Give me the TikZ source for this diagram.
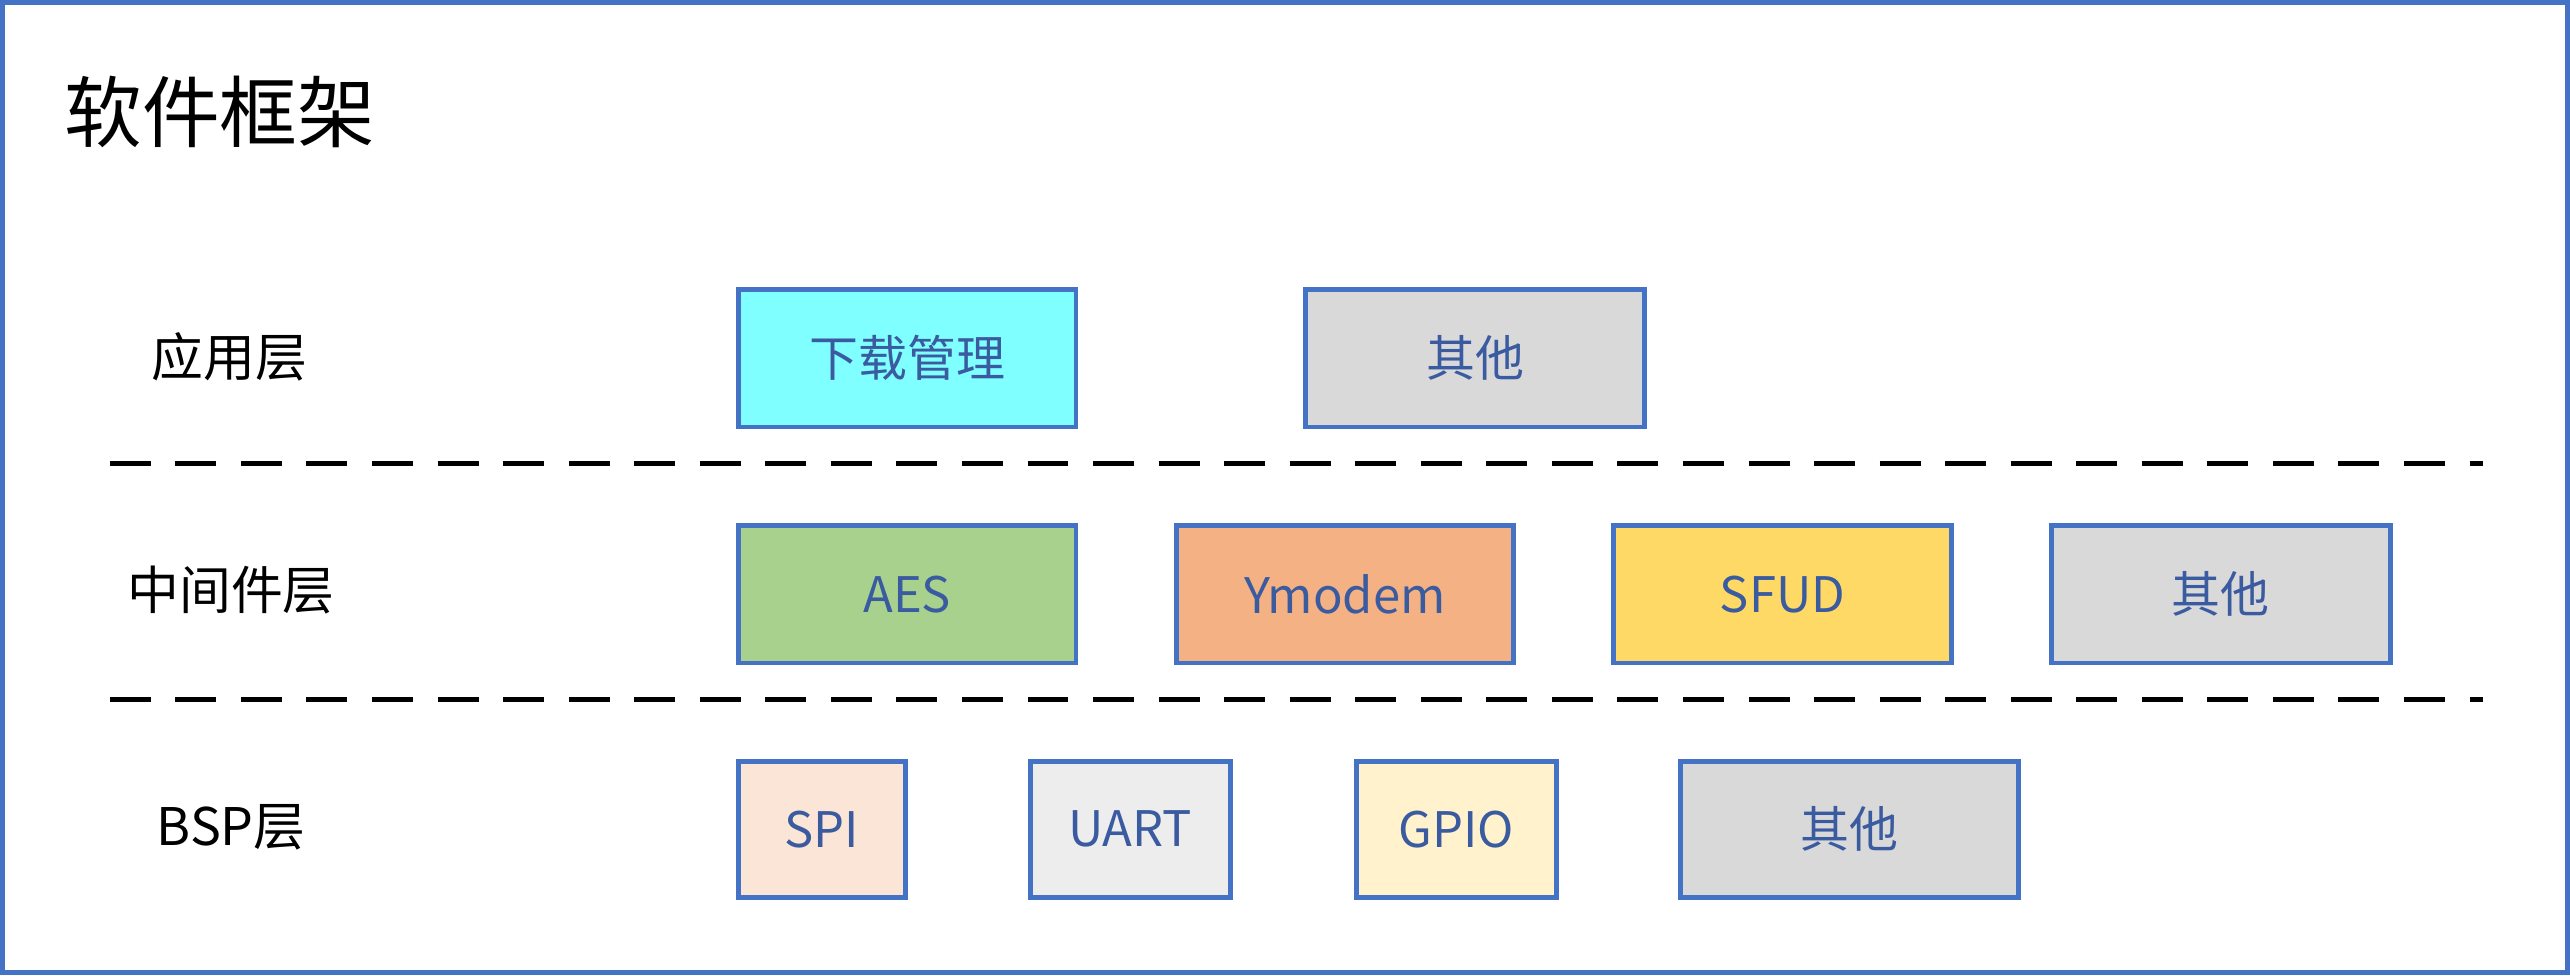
\documentclass[tikz,border=0pt]{standalone}
\usepackage{fontspec}
\setmainfont{Noto Sans CJK SC}
\begin{document}
\begin{tikzpicture}[x=0.02cm,y=-0.02cm,
  box/.style={draw=bd,line width=0.06cm,inner sep=0pt,font=\fontsize{17}{20}\selectfont,text=tx},
  lbl/.style={font=\fontsize{18}{22}\selectfont,text=black},
  sep/.style={line width=0.06cm,dash pattern=on 0.5cm off 0.3cm}]
\definecolor{bd}{HTML}{4472C4}
\definecolor{tx}{HTML}{3A5BA0}
\definecolor{gr}{HTML}{D9D9D9}
\draw[draw=bd,line width=0.06cm,fill=white] (1.5,1.5) rectangle (1566.5,593.5);
\useasboundingbox (0,0) rectangle (1568,595);
\node[anchor=west,font=\fontsize{27}{32}\selectfont] (title) at (33,68) {软件框架};
\node[lbl] (l1) at (140,218) {应用层};
\node[lbl] (l2) at (141,360) {中间件层};
\node[lbl] (l3) at (141,505) {BSP层};
\newcommand{\bx}[6]{\node[box,fill=#6,minimum width=#4*0.02cm-0.06cm,minimum height=#5*0.02cm-0.06cm] (#1) at (#2,#3) {#1};}
\node[box,fill={rgb,255:red,127;green,255;blue,255},minimum width=4.12cm,minimum height=1.68cm] (dl) at (553.5,218.5) {下载管理};
\node[box,fill=gr,minimum width=4.14cm,minimum height=1.68cm] (o1) at (900,218.5) {其他};
\node[box,fill={rgb,255:red,169;green,209;blue,142},minimum width=4.12cm,minimum height=1.68cm] (aes) at (553.5,362.5) {AES};
\node[box,fill={rgb,255:red,244;green,177;blue,131},minimum width=4.12cm,minimum height=1.68cm] (ym) at (820.5,362.5) {Ymodem};
\node[box,fill={rgb,255:red,255;green,217;blue,102},minimum width=4.12cm,minimum height=1.68cm] (sf) at (1087.5,362.5) {SFUD};
\node[box,fill=gr,minimum width=4.14cm,minimum height=1.68cm] (o2) at (1355,362.5) {其他};
\node[box,fill={rgb,255:red,251;green,229;blue,214},minimum width=2.04cm,minimum height=1.66cm] (spi) at (501.5,506) {SPI};
\node[box,fill={rgb,255:red,237;green,237;blue,237},minimum width=2.44cm,minimum height=1.66cm] (uart) at (689.5,506) {UART};
\node[box,fill={rgb,255:red,255;green,242;blue,204},minimum width=2.44cm,minimum height=1.66cm] (gpio) at (888.5,506) {GPIO};
\node[box,fill=gr,minimum width=4.12cm,minimum height=1.66cm] (o3) at (1128.5,506) {其他};
\coordinate (a1) at (67,283); \coordinate (a2) at (1515,283);
\coordinate (b1) at (67,427); \coordinate (b2) at (1515,427);
\draw[sep] (a1) -- (a2);
\draw[sep] (b1) -- (b2);
\end{tikzpicture}
\end{document}
